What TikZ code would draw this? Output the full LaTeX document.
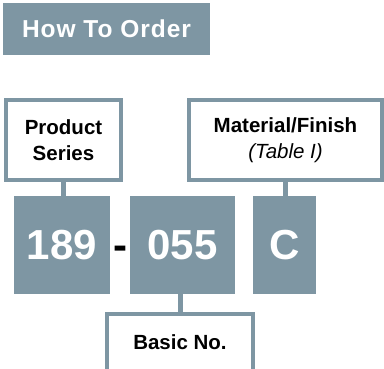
\documentclass[tikz,border=0pt]{standalone}
\usepackage{fontspec}
\setmainfont{Liberation Sans}
\usetikzlibrary{calc,positioning}
\definecolor{slate}{RGB}{126,150,163}

\begin{document}
\begin{tikzpicture}[x=1pt,y=-1pt,
    title/.style={fill=slate,text=white,minimum width=207,minimum height=52,
        font=\bfseries\fontsize{24.5}{28}\selectfont\addfontfeature{LetterSpace=4}},
    labelbox/.style={draw=slate,line width=4,fill=white,align=center,
        font=\bfseries\fontsize{20.5}{26}\selectfont},
    codebox/.style={fill=slate,text=white,minimum height=98,
        font=\bfseries\fontsize{42}{48}\selectfont},
    stem/.style={draw=slate,line width=5}]
\path[use as bounding box,clip] (0,0) rectangle (384,369);

% title
\node[title] (hto) at (106.5,29) {How To Order};

% labels above
\node[labelbox,minimum width=115,minimum height=80] (ps) at (63.5,140)
    {Product\\Series};
\node[labelbox,minimum width=193,minimum height=80] (mf) at (285.5,140)
    {Material/Finish\\{\mdseries\itshape (Table I)}};

% part number
\node[codebox,minimum width=96] (n189) at (62,245) {189};
\node[codebox,minimum width=105] (n055) at (182.5,245) {055};
\node[codebox,minimum width=63] (nC) at (284.5,245) {C};
\node[font=\bfseries\fontsize{42}{48}\selectfont,inner sep=0] (dash)
    at ($(n189.east)!0.5!(n055.west)$) {-\vphantom{0}};

% label below
\node[labelbox,minimum width=145.5,minimum height=72.5,text depth=18.2,anchor=north]
    (bn) at (180,312.5) {Basic No.};

% stems
\draw[stem] (ps.south) -- (ps.south |- n189.north);
\draw[stem] (mf.south) -- (mf.south |- nC.north);
\draw[stem] (bn.north) -- (bn.north |- n055.south);
\end{tikzpicture}
\end{document}
